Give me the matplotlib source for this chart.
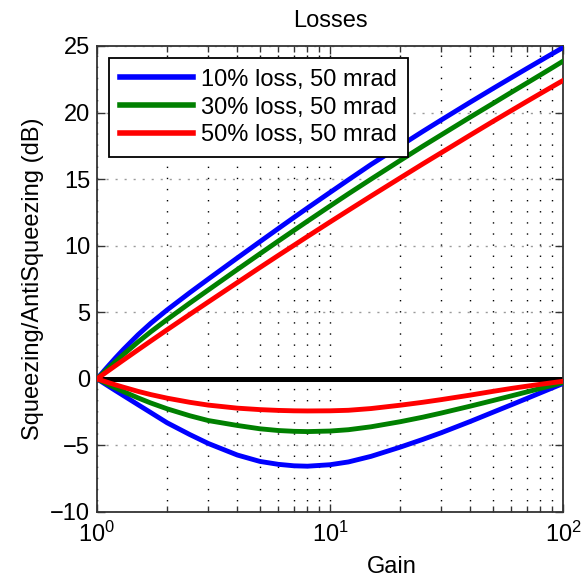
import matplotlib
matplotlib.use("Agg")
import matplotlib.pyplot as plt
from matplotlib.ticker import LogLocator, NullFormatter

plt.rcParams['font.family'] = ['Liberation Sans', 'DejaVu Sans']
plt.rcParams['mathtext.default'] = 'regular'

# Data
gain = [1, 1.1, 1.2, 1.3, 1.5, 1.7, 2, 2.5, 3, 4, 5, 6, 7, 8, 10, 12, 15,
        20, 25, 30, 40, 50, 60, 70, 80, 90, 100]

anti_10 = [0, 0.83, 1.57, 2.22, 3.31, 4.17, 5.18, 6.47, 7.49, 9.08, 10.3, 11.29, 12.12, 12.83,
           14.0, 14.95, 16.1, 17.5, 18.58, 19.44, 20.78, 21.8, 22.62, 23.31, 23.9, 24.42, 24.88]
anti_30 = [0, 0.68, 1.29, 1.84, 2.77, 3.53, 4.46, 5.69, 6.67, 8.21, 9.39, 10.35, 11.15, 11.84,
           12.98, 13.9, 15.0, 16.4, 17.47, 18.32, 19.66, 20.68, 21.52, 22.22, 22.83, 23.37, 23.86]
anti_50 = [0, 0.52, 0.99, 1.42, 2.18, 2.84, 3.69, 4.84, 5.77, 7.23, 8.36, 9.27, 10.03, 10.69,
           11.78, 12.66, 13.73, 15.09, 16.14, 16.98, 18.31, 19.33, 20.15, 20.84, 21.43, 21.95, 22.41]

sq_10 = [0, -0.46, -0.88, -1.26, -1.94, -2.53, -3.3, -4.18, -4.85, -5.72, -6.2, -6.42, -6.53, -6.56,
         -6.45, -6.24, -5.82, -5.13, -4.55, -4.05, -3.2, -2.51, -1.95, -1.47, -1.05, -0.68, -0.35]
sq_30 = [0, -0.36, -0.68, -0.96, -1.43, -1.81, -2.25, -2.77, -3.13, -3.5, -3.75, -3.88, -3.94, -3.96,
         -3.92, -3.82, -3.6, -3.22, -2.88, -2.57, -2.05, -1.63, -1.28, -0.98, -0.72, -0.49, -0.28]
sq_50 = [0, -0.24, -0.45, -0.63, -0.94, -1.18, -1.45, -1.76, -1.97, -2.2, -2.31, -2.37, -2.4, -2.41,
         -2.4, -2.36, -2.23, -1.98, -1.76, -1.56, -1.22, -0.94, -0.72, -0.55, -0.41, -0.29, -0.18]

labels = ['10% loss, 50 mrad', '30% loss, 50 mrad', '50% loss, 50 mrad']
colors = ['#0000ff', '#008000', '#ff0000']

yticks = [-10, -5, 0, 5, 10, 15, 20, 25]
xticks = [1, 10, 100]
xticklabels = ['$10^0$', '$10^1$', '$10^2$']

fig = plt.figure(figsize=(5.82, 5.80), dpi=100)
ax = fig.add_axes([97/582, 1-512/580, (563-97)/582, (512-46)/580])

ax.axhline(0, color='k', lw=3.6, zorder=2)

anti = [anti_10, anti_30, anti_50]
sq = [sq_10, sq_30, sq_50]
for a, s, c, lab in zip(anti, sq, colors, labels):
    ax.plot(gain, a, color=c, lw=3.5, label=lab, zorder=3, solid_joinstyle='round')
    ax.plot(gain, s, color=c, lw=3.5, zorder=3, solid_joinstyle='round')

ax.set_xscale('log')
ax.set_xlim(1, 100)
ax.set_ylim(-10, 25)
ax.set_yticks(yticks)
ax.set_xticks(xticks)
ax.set_xticklabels(xticklabels)
ax.xaxis.set_minor_locator(LogLocator(base=10, subs=range(2, 10)))
ax.xaxis.set_minor_formatter(NullFormatter())

ax.tick_params(axis='both', which='both', direction='in', top=True, right=True,
               labelsize=17, color='#333333')
ax.tick_params(axis='both', which='major', length=6, width=1)
ax.tick_params(axis='x', which='minor', length=4, width=1)
ax.tick_params(axis='y', which='major', pad=5)
ax.tick_params(axis='x', which='major', pad=7)

ax.grid(axis='x', which='both', color='k', linestyle=(0, (1, 7)), lw=1.0, zorder=1)
ax.grid(axis='y', which='major', color='#9a9a9a', linestyle=(0, (1.5, 5)), lw=1.0, zorder=1)
ax.set_axisbelow(True)

for sp in ax.spines.values():
    sp.set_color('#333333')
    sp.set_linewidth(1.3)

ax.set_title('Losses', fontsize=17, pad=14)
ax.set_ylabel('Squeezing/AntiSqueezing (dB)', fontsize=17, labelpad=4)
ax.set_xlabel('Gain', fontsize=17)
ax.xaxis.set_label_coords((392-97)/466, -0.094)
ax.xaxis.label.set_va('top')

leg = ax.legend(loc='upper left', bbox_to_anchor=((109-97)/466, (512-58)/466),
                borderaxespad=0, fontsize=17, handlelength=3.1, handletextpad=0.35,
                borderpad=0.45, labelspacing=0.25, fancybox=False, framealpha=1,
                edgecolor='k')
leg.get_frame().set_linewidth(1.3)
for l in leg.get_lines():
    l.set_linewidth(4)

fig.savefig('out.png', dpi=100)
